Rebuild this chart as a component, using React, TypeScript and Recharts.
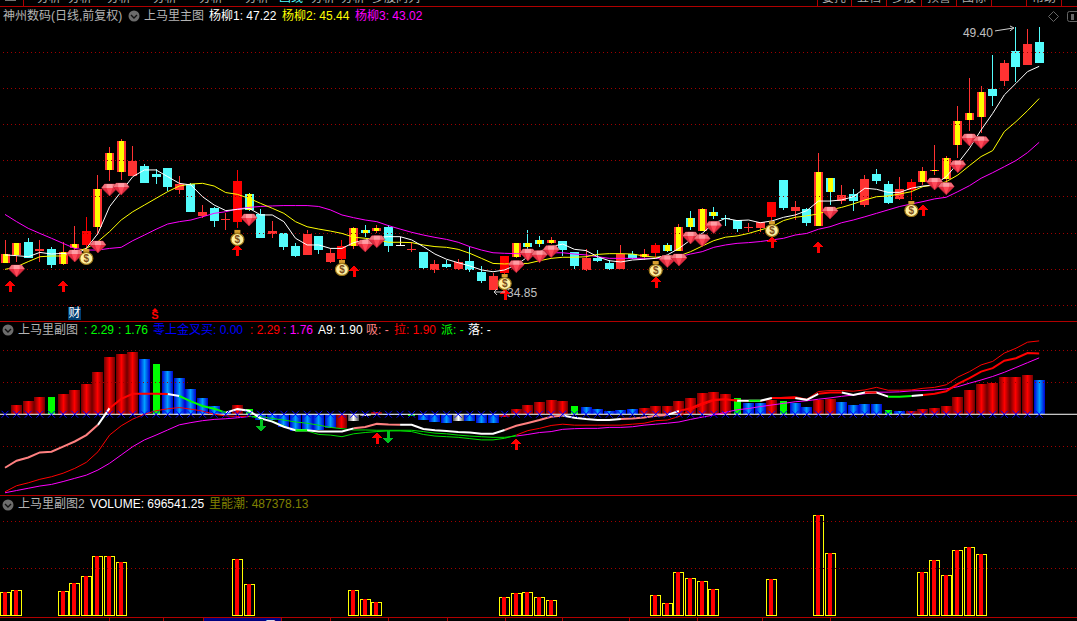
import React from 'react';
import { ComposedChart, Bar, Line, XAxis, YAxis, ReferenceLine } from 'recharts';

const candleKinds = [
  'y','y','c','r','c','y','y','R','y','y','y','r','c','c','c','r','c','r','c','r','R','q','c','r','c','c','r','c','r','R',
  'y','q','y','c','w','r','c','r','c','r','c','c','r','R','y','q','q','y','c','c','r','c','c','r','c','y','R','q','y','q',
  'y','q','c','c','r','r','R','c','r','c','y','q','r','c','r','c','c','r','R','y','y','y','y','y','y','c','r','c','r','c',
];
const opens = [
  36.33,36.79,37.50,37.01,37.12,36.27,37.19,37.34,38.35,41.47,41.36,41.18,41.71,41.29,41.60,40.40,40.69,38.95,39.39,38.72,
  38.63,40.16,39.07,37.95,38.00,37.28,36.79,37.84,36.40,36.56,37.28,38.17,38.13,38.35,37.32,37.08,36.95,35.96,36.29,36.01,
  36.45,35.84,34.85,35.77,36.67,37.45,37.62,37.45,37.56,36.95,35.96,36.62,36.34,36.01,36.84,36.67,36.90,37.34,37.01,38.83,
  38.11,39.16,38.83,38.72,38.26,38.28,38.90,40.94,39.22,39.33,38.39,41.05,39.77,40.16,39.55,41.27,40.71,39.88,40.38,40.83,
  41.43,40.99,42.87,44.25,44.42,45.97,46.41,48.07,47.30,48.57,
];
const closes = [
  36.84,37.45,36.64,37.12,36.25,36.93,37.38,38.11,40.44,42.43,43.09,41.99,40.77,41.12,40.57,40.71,39.17,39.17,38.69,38.80,
  40.88,39.28,37.75,38.11,37.23,36.73,37.95,37.06,36.89,37.28,38.28,38.02,38.30,37.30,37.36,37.12,36.07,36.29,36.12,36.40,
  35.96,35.35,35.62,36.73,37.45,37.23,37.39,37.62,37.06,36.18,36.62,36.45,36.01,36.84,36.62,36.84,37.34,37.01,38.33,38.33,
  39.33,38.94,38.78,38.22,38.31,38.59,39.72,39.39,39.44,38.55,41.38,40.27,40.11,39.77,40.99,40.88,39.66,40.44,40.83,41.43,
  41.49,42.15,44.20,44.64,45.80,45.58,47.41,47.19,48.46,47.41,
];
const highs = [
  37.62,37.45,37.71,37.62,37.21,37.49,38.39,38.87,41.21,42.78,43.19,42.82,41.80,41.53,41.60,41.16,40.75,39.55,39.42,39.09,
  41.49,40.24,39.31,38.67,38.00,37.47,38.17,37.84,37.15,37.62,38.35,38.44,38.44,38.44,37.76,37.52,36.95,36.51,36.51,36.55,
  37.23,36.18,35.77,36.73,37.45,38.17,37.84,37.76,37.56,36.95,37.12,37.06,36.51,37.34,37.01,37.12,37.45,37.45,38.50,39.22,
  39.39,39.44,38.98,38.72,38.54,38.59,39.72,40.94,39.77,39.39,42.43,41.05,40.66,40.44,41.21,41.54,40.88,41.10,40.99,41.65,
  42.87,42.26,45.03,46.58,46.13,47.85,47.57,49.40,49.29,49.40,
];
const lows = [
  36.33,36.42,36.64,36.42,36.03,36.23,36.97,37.06,37.89,40.90,40.94,41.18,40.73,40.71,40.35,40.16,39.17,38.82,38.30,38.17,
  38.26,39.24,37.75,37.75,37.06,36.69,36.79,36.84,36.33,36.33,37.12,37.78,38.02,36.95,37.25,36.95,36.03,35.81,36.05,35.92,
  35.86,35.26,34.85,35.50,36.62,37.06,37.21,37.39,36.73,36.01,35.92,36.40,35.96,36.01,36.56,36.51,36.69,36.95,37.01,38.19,
  38.11,38.78,38.39,38.06,38.06,38.06,38.63,39.28,38.72,38.39,38.39,39.55,39.61,39.22,39.44,40.71,39.61,39.83,39.83,40.66,
  41.21,40.66,42.15,43.65,43.52,45.03,46.13,46.36,47.30,47.41,
];
const yangliu1 = [
  36.79,36.75,36.69,36.93,36.84,36.88,36.79,37.15,37.98,39.46,40.29,41.12,41.49,41.49,41.12,40.75,40.66,40.01,39.55,39.24,
  39.31,39.37,39.00,39.00,38.63,37.71,37.34,37.34,37.15,37.15,37.47,37.62,37.76,37.80,37.80,37.62,37.25,36.84,36.55,36.36,
  36.18,35.96,35.86,35.96,36.23,36.69,36.97,37.25,37.39,37.10,37.03,36.69,36.47,36.40,36.51,36.55,36.60,36.79,37.15,37.62,
  37.98,38.54,38.81,38.69,38.72,38.57,38.67,38.87,39.00,39.24,39.77,39.77,39.83,40.01,40.48,40.42,40.25,40.25,40.48,40.60,
  40.66,41.12,41.86,42.69,43.70,44.62,45.64,46.28,46.93,47.22,
];
const yangliu2 = [
  35.99,36.14,36.42,36.69,36.73,36.73,36.97,37.15,37.53,38.08,38.72,39.18,39.55,39.92,40.29,40.60,40.71,40.75,40.60,40.24,
  40.14,39.92,39.64,39.37,39.09,38.63,38.35,38.22,38.11,37.98,37.77,37.71,37.62,37.49,37.49,37.47,37.34,37.25,37.21,37.10,
  36.88,36.60,36.32,36.29,36.32,36.32,36.47,36.60,36.66,36.66,36.69,36.82,36.86,36.86,36.84,36.73,36.66,36.73,36.73,36.97,
  37.28,37.58,37.77,37.84,37.98,38.17,38.35,38.69,38.87,38.95,39.06,39.28,39.42,39.61,39.83,40.01,40.05,40.16,40.29,40.57,
  40.66,40.84,41.21,41.73,42.23,42.56,43.61,44.16,44.77,45.44,
];
const yangliu3 = [
  39.03,38.63,38.26,37.98,37.71,37.43,37.15,37.06,37.06,37.15,37.21,37.58,37.89,38.21,38.50,38.63,38.72,38.90,39.09,39.18,
  39.33,39.42,39.47,39.50,39.52,39.52,39.52,39.47,39.28,39.00,38.85,38.72,38.63,38.41,38.22,38.04,37.89,37.76,37.65,37.49,
  37.25,37.06,36.91,36.88,36.86,36.84,36.88,36.91,36.91,36.84,36.79,36.69,36.60,36.60,36.60,36.60,36.60,36.62,36.69,36.84,
  36.97,37.21,37.34,37.43,37.47,37.53,37.62,37.71,37.89,37.98,38.21,38.35,38.57,38.72,38.90,39.09,39.28,39.47,39.61,39.74,
  39.89,39.98,40.29,40.62,41.03,41.34,41.67,42.01,42.45,43.02,
];
const priceGrid = [48, 46, 44, 42, 40, 38, 36, 34];

// [day index, price] for the picture marks on the main pane
const gemMarks = [
  [1,35.90],[6,36.73],[8,37.23],[9,40.38],[10,40.43],[21,38.72],[31,37.29],[32,37.52],[44,36.14],[45,36.79],[46,36.69],[47,36.97],
  [57,36.42],[58,36.51],[59,37.73],[60,37.58],[61,38.30],[71,39.11],[80,40.71],[81,40.45],[82,41.67],[83,43.15],[84,43.00],
];
const bagMarks = [[7,36.68],[20,37.73],[29,36.07],[43,35.29],[56,36.01],[66,38.22],[78,39.33]];
const upMarks = [[0,35.40],[5,35.40],[20,37.39],[30,36.23],[43,34.96],[56,35.64],[66,37.83],[70,37.56],[79,39.61]];
const peakMark = [[87,49.40]];
const troughMark = [[42,34.85]];

const histKinds = [
  'r','r','r','r','g','r','r','r','r','r','r','r','b','g','b','b','b','b','b','b','r','g','b','b','b','b','b','b','b','r',
  'w','w','r','b','b','g','b','b','b','w','b','b','b','r','r','r','r','r','r','g','b','b','b','b','b','r','r','r','r','r',
  'r','r','r','g','b','b','r','g','b','b','r','r','b','b','b','b','g','b','r','r','r','r','r','r','r','r','r','r','r','b',
];
const histValues = [
  0,0.29,0.42,0.54,0.54,0.64,0.76,0.95,1.32,1.79,1.89,1.93,1.73,1.57,1.35,1.14,0.79,0.51,0.26,0.07,
  0.29,0.17,-0.18,-0.18,-0.41,-0.54,-0.54,-0.49,-0.44,-0.44,-0.21,-0.07,0.07,-0.02,-0.02,-0.05,-0.18,-0.24,-0.28,-0.21,
  -0.21,-0.28,-0.28,-0.08,0.17,0.29,0.39,0.45,0.42,0.26,0.23,0.17,0.10,0.14,0.17,0.20,0.26,0.26,0.42,0.51,
  0.67,0.70,0.64,0.51,0.35,0.35,0.45,0.42,0.35,0.23,0.45,0.48,0.39,0.29,0.32,0.32,0.14,0.10,0.10,0.17,
  0.20,0.26,0.54,0.76,0.95,0.98,1.17,1.17,1.23,1.07,
];
const thickValues = [
  -1.67,-1.45,-1.35,-1.19,-1.17,-1.01,-0.85,-0.65,-0.33,0.19,0.48,0.64,0.64,0.64,0.63,0.57,0.40,0.26,0.17,0.05,
  0.16,0.11,-0.13,-0.23,-0.39,-0.50,-0.50,-0.54,-0.54,-0.54,-0.44,-0.40,-0.30,-0.32,-0.33,-0.33,-0.46,-0.50,-0.52,-0.55,
  -0.57,-0.61,-0.61,-0.49,-0.36,-0.27,-0.18,-0.08,-0.04,-0.11,-0.15,-0.18,-0.18,-0.15,-0.13,-0.10,-0.05,-0.02,0.10,0.19,
  0.34,0.45,0.47,0.42,0.42,0.42,0.51,0.51,0.51,0.45,0.64,0.68,0.68,0.60,0.68,0.68,0.55,0.55,0.57,0.60,
  0.64,0.72,0.95,1.13,1.33,1.44,1.67,1.75,1.91,1.90,
];
// colour of the stretch leaving each day: S salmon, W white, R red, G green
const thickStretches =
  'SSSSSSSS' + 'W' + 'RRRRR' + 'W' + 'GGGG' + 'WWWWWW' + 'G' + 'WWWW' + 'SSSS' + 'WWWWWWWWW' + 'SSSSS' + 'WWWWW' + 'SSSS' + 'W' +
  'RRRRR' + 'W' + 'G' + 'W' + 'RR' + 'WW' + 'RR' + 'WW' + 'R' + 'W' + 'GG' + 'W' + 'RRRRRRRRRR';
const fastValues = [
  -2.42,-2.23,-2.14,-2.03,-1.95,-1.84,-1.69,-1.50,-1.17,-0.65,-0.36,-0.15,0,0.11,0.17,0.21,0.16,0.10,0,-0.05,
  -0.07,-0.06,-0.13,-0.21,-0.36,-0.52,-0.52,-0.63,-0.65,-0.70,-0.61,-0.57,-0.54,-0.52,-0.52,-0.54,-0.63,-0.68,-0.70,-0.72,
  -0.76,-0.80,-0.80,-0.75,-0.65,-0.51,-0.44,-0.35,-0.31,-0.34,-0.34,-0.34,-0.34,-0.34,-0.31,-0.28,-0.20,-0.18,-0.07,0.14,
  0.29,0.42,0.47,0.45,0.40,0.40,0.50,0.53,0.55,0.47,0.71,0.74,0.74,0.72,0.76,0.84,0.75,0.75,0.76,0.81,
  0.84,0.92,1.16,1.33,1.54,1.65,1.91,2.06,2.25,2.29,
];
const slowValues = [
  -2.45,-2.38,-2.31,-2.24,-2.19,-2.10,-2.00,-1.90,-1.74,-1.53,-1.27,-1.01,-0.80,-0.65,-0.49,-0.33,-0.26,-0.20,-0.16,-0.14,
  -0.11,-0.07,-0.07,-0.13,-0.18,-0.24,-0.28,-0.34,-0.41,-0.45,-0.49,-0.49,-0.50,-0.50,-0.50,-0.50,-0.54,-0.59,-0.61,-0.65,
  -0.68,-0.70,-0.72,-0.72,-0.68,-0.63,-0.57,-0.54,-0.47,-0.45,-0.44,-0.44,-0.41,-0.41,-0.39,-0.34,-0.31,-0.28,-0.24,-0.16,
  -0.09,-0.02,0.06,0.14,0.18,0.24,0.29,0.34,0.39,0.42,0.47,0.51,0.56,0.60,0.64,0.69,0.69,0.70,0.73,0.74,
  0.76,0.79,0.86,0.97,1.07,1.18,1.31,1.46,1.61,1.76,
];
const greenStretchStart = 21;
const greenStretchEnd = 44;
const indicatorGrid = [2, 1, -1];
const redUpMarks = [[32,-0.54],[44,-0.74]];
const greenDownMarks = [[22,-0.54],[33,-0.93]];

const volumeMarks = [
  [0,237000],[1,257000],[5,247000],[6,327000],[7,397000],[8,597000],[9,597000],[10,537000],[20,567000],[21,317000],[30,257000],
  [31,167000],[32,137000],[43,187000],[44,227000],[45,237000],[46,187000],[47,157000],[56,207000],[57,127000],[58,437000],
  [59,377000],[60,347000],[61,267000],[66,367000],[70,1007000],[71,627000],[79,437000],[80,557000],[81,407000],[82,657000],
  [83,687000],[84,617000],
];
const volumeGrid = [477000, 947000];

// 90 trading days plus 3 empty slots on the right edge
const days = Array.from({ length: 93 }, (_, i) => `d${i}`);

const pick = (marks: number[][], i: number) => {
  const m = marks.find((p) => p[0] === i);
  return m ? m[1] : null;
};
const stretch = (values: number[], i: number, on: (k: number) => boolean) => {
  if (i >= values.length) return null;
  return on(i) || (i > 0 && on(i - 1)) ? values[i] : null;
};
const isGreenStretch = (k: number) => k >= greenStretchStart && k < greenStretchEnd;

const rows = days.map((day, i) => ({
  day,
  range: i < highs.length ? [lows[i], highs[i]] : null,
  open: opens[i],
  close: closes[i],
  high: highs[i],
  low: lows[i],
  kind: candleKinds[i],
  yl1: yangliu1[i] ?? null,
  yl2: yangliu2[i] ?? null,
  yl3: yangliu3[i] ?? null,
  gem: pick(gemMarks, i),
  bag: pick(bagMarks, i),
  up: pick(upMarks, i),
  peak: pick(peakMark, i),
  trough: pick(troughMark, i),
  hist: histValues[i] ?? null,
  histKind: histKinds[i],
  cross: i < histValues.length ? 0 : null,
  thickS: stretch(thickValues, i, (k) => thickStretches[k] === 'S'),
  thickW: stretch(thickValues, i, (k) => thickStretches[k] === 'W'),
  thickR: stretch(thickValues, i, (k) => thickStretches[k] === 'R'),
  thickG: stretch(thickValues, i, (k) => thickStretches[k] === 'G'),
  fastRed: stretch(fastValues, i, (k) => !isGreenStretch(k)),
  fastGreen: stretch(fastValues, i, isGreenStretch),
  slowPink: stretch(slowValues, i, (k) => !isGreenStretch(k)),
  slowGreen: stretch(slowValues, i, isGreenStretch),
  redUp: pick(redUpMarks, i),
  greenDown: pick(greenDownMarks, i),
  volume: pick(volumeMarks, i),
}));

const CandleShape = (props: any) => {
  const { x, y, width, height, payload } = props;
  if (!payload.range || !height) return <g />;
  const top = Math.min(y, y + height);
  const perUnit = Math.abs(height) / (payload.high - payload.low);
  const bodyTop = Math.round(top + (payload.high - Math.max(payload.open, payload.close)) * perUnit);
  const bodyBottom = Math.round(top + (payload.high - Math.min(payload.open, payload.close)) * perUnit);
  // recharts floors the bar offset inside the band, put that fraction back
  const left = Math.round(x + 0.31);
  const w = Math.round(width);
  const mid = left + Math.floor(w / 2);
  const k = payload.kind;
  const color = k === 'c' || k === 'q' ? '#54fcfc' : k === 'R' ? '#ff0000' : k === 'w' ? '#ffffff' : '#ff3232';
  return (
    <g shapeRendering="crispEdges">
      <rect x={mid} y={Math.round(top)} width={1} height={Math.max(1, Math.round(Math.abs(height)))} fill={color} />
      <rect x={left} y={bodyTop} width={w} height={Math.max(1, bodyBottom - bodyTop)} fill={color} />
      {(k === 'y' || k === 'q') && (
        <rect x={left + 2} y={bodyTop} width={w - 4} height={Math.max(1, bodyBottom - bodyTop)} fill="#ffff00" />
      )}
    </g>
  );
};

const HistShape = (props: any) => {
  const { x, y, width, height, payload } = props;
  if (payload.hist == null || !height) return <g />;
  const top = Math.round(Math.min(y, y + height));
  const h = Math.max(1, Math.round(Math.abs(height)));
  const k = payload.histKind;
  const left = Math.round(x + 0.31);
  if (k === 'g') return <rect x={left + 2} y={top} width={7} height={h} fill="#00ff00" shapeRendering="crispEdges" />;
  const fill = k === 'r' ? 'url(#histRed)' : k === 'b' ? 'url(#histBlue)' : 'url(#histGray)';
  return <rect x={left} y={top} width={Math.round(width)} height={h} fill={fill} shapeRendering="crispEdges" />;
};

const VolumeShape = (props: any) => {
  const { x, y, width, height, payload } = props;
  if (payload.volume == null || !height) return <g />;
  const left = Math.round(x + 0.31);
  const top = Math.round(y);
  const h = Math.round(height);
  const w = Math.round(width);
  return (
    <g shapeRendering="crispEdges">
      <rect x={left} y={top} width={w} height={h} fill="#ffff00" />
      <rect x={left + 1} y={top + 1} width={w - 2} height={h - 2} fill="#000" />
      <rect x={left + 3} y={top} width={w - 7} height={h - 1} fill="#ff0000" />
    </g>
  );
};

const Gem = ({ cx, cy }: any) => (
  <g transform={`translate(${cx},${cy})`}>
    <polygon points="-8,-2 -5,-6 5,-6 8,-2 0,6" fill="#e02c40" stroke="#a02030" strokeWidth={0.6} />
    <polygon points="-8,-2 -5,-6 5,-6 8,-2" fill="#f0727c" />
    <polygon points="-3,-2 3,-2 0,6" fill="#ff4858" />
    <polygon points="-3,-6 3,-6 3,-2 -3,-2" fill="#ff9ca4" />
  </g>
);

const MoneyBag = ({ cx, cy }: any) => (
  <g transform={`translate(${cx},${cy})`}>
    <rect x={-3} y={-8} width={6} height={3} fill="#d8a030" />
    <ellipse cx={0} cy={1.5} rx={6.5} ry={6} fill="#fff0a0" stroke="#a07818" strokeWidth={1.2} />
    <text x={0} y={5} textAnchor="middle" fontSize={10} fontWeight="bold" fontFamily="Liberation Sans" fill="#7a4a18">$</text>
  </g>
);

const UpArrow = ({ cx, cy, color = '#ff0000', dx = 0 }: any) => (
  <g transform={`translate(${Math.round(cx + dx)},${Math.round(cy)})`} shapeRendering="crispEdges">
    <polygon points="0,0 5,6 1.5,6 1.5,12 -1.5,12 -1.5,6 -5,6" fill={color} />
  </g>
);

const DownArrow = ({ cx, cy, color = '#00c020' }: any) => (
  <g transform={`translate(${Math.round(cx)},${Math.round(cy)})`} shapeRendering="crispEdges">
    <polygon points="0,0 5,-6 1.5,-6 1.5,-13 -1.5,-13 -1.5,-6 -5,-6" fill={color} />
  </g>
);

const CrossMark = ({ cx, cy }: any) => (
  <g stroke="#0000ff" strokeWidth={1}>
    <line x1={cx - 3.5} y1={cy - 3.5} x2={cx + 3.5} y2={cy + 3.5} />
    <line x1={cx - 3.5} y1={cy + 3.5} x2={cx + 3.5} y2={cy - 3.5} />
  </g>
);

const priceFont = { fontFamily: '"Liberation Sans", sans-serif', fontSize: 12, fill: '#c0c0c0' };

const PeakNote = ({ cx, cy, value }: any) => (
  <g>
    <text x={cx - 53} y={cy + 10} {...priceFont}>{value.toFixed(2)}</text>
    <path d={`M${cx - 21} ${cy + 4} L${cx - 2} ${cy + 1} M${cx - 6} ${cy - 1} L${cx - 2} ${cy + 1} L${cx - 6} ${cy + 4}`} stroke="#d0d0d0" fill="none" />
  </g>
);

const TroughNote = ({ cx, cy, value }: any) => (
  <g>
    <path d={`M${cx + 12} ${cy + 2} L${cx + 1} ${cy + 2} M${cx + 4} ${cy - 1} L${cx + 1} ${cy + 2} L${cx + 4} ${cy + 5}`} stroke="#d0d0d0" fill="none" />
    <text x={cx + 14} y={cy + 7} {...priceFont}>{value.toFixed(2)}</text>
  </g>
);

const marks = (Comp: any, extra?: (i: number) => any) => (props: any) => {
  const { cx, cy, index, value } = props;
  if (cy == null || cx == null || value == null) return <g key={index} />;
  return <Comp key={index} cx={cx} cy={cy} value={Array.isArray(value) ? value[1] : value} {...(extra ? extra(index) : {})} />;
};

const seriesLine = (key: string, color: string, width = 1) => (
  <Line
    dataKey={key}
    type="linear"
    stroke={color}
    strokeWidth={width}
    dot={false}
    activeDot={false}
    legendType="none"
    isAnimationActive={false}
  />
);

const markLine = (key: string, dot: any) => (
  <Line dataKey={key} stroke="none" strokeWidth={0} dot={dot} activeDot={false} legendType="none" isAnimationActive={false} />
);

const gridLine = (v: number) => (
  <ReferenceLine key={v} y={v} stroke="#a00000" strokeDasharray="1 3" shapeRendering="crispEdges" />
);

const chartWidth = 1082;
const chartMargin = { top: 0, right: 1.15, bottom: 0, left: 0.19 };

const Pane = ({ top, height, domain, children }: any) => (
  <div style={{ position: 'absolute', left: -1, top }}>
    <ComposedChart width={chartWidth} height={height} data={rows} margin={chartMargin} barGap={0}>
      <defs>
        <linearGradient id="histRed" x1="0" y1="0" x2="1" y2="0">
          <stop offset="0%" stopColor="#700000" />
          <stop offset="50%" stopColor="#ff0000" />
          <stop offset="100%" stopColor="#700000" />
        </linearGradient>
        <linearGradient id="histBlue" x1="0" y1="0" x2="1" y2="0">
          <stop offset="0%" stopColor="#0000d0" />
          <stop offset="50%" stopColor="#00a0ff" />
          <stop offset="100%" stopColor="#0000d0" />
        </linearGradient>
        <linearGradient id="histGray" x1="0" y1="0" x2="1" y2="0">
          <stop offset="0%" stopColor="#505050" />
          <stop offset="50%" stopColor="#ffffff" />
          <stop offset="100%" stopColor="#505050" />
        </linearGradient>
      </defs>
      <XAxis dataKey="day" hide />
      <YAxis type="number" hide domain={domain} />
      {children}
    </ComposedChart>
  </div>
);

const textBase: React.CSSProperties = {
  position: 'absolute',
  whiteSpace: 'nowrap',
  fontFamily: '"Liberation Sans", "Noto Sans CJK SC", sans-serif',
  fontSize: 12,
  lineHeight: '14px',
};

const T = ({ x, y, color, children }: any) => (
  <div style={{ ...textBase, left: x, top: y - 7, color }}>{children}</div>
);

const Chevron = ({ x, y }: any) => (
  <svg style={{ position: 'absolute', left: x - 6, top: y - 6 }} width={12} height={12}>
    <circle cx={6} cy={6} r={5.5} fill="#6c6c6c" />
    <path d="M3 5 L6 8 L9 5" stroke="#111" strokeWidth={1.4} fill="none" />
  </svg>
);

const Rule = ({ y, x = 0, w = 1077, h = 1 }: any) => (
  <div style={{ position: 'absolute', left: x, top: y, width: w, height: h, background: '#b00000' }} />
);

const topTabsLeft = [
  ['分析', 37], ['分析', 68], ['分析', 107], ['分析', 153], ['分析', 199], ['分析', 245], ['画线', 279, '#54fcfc'], ['分析', 311], ['分析', 341], ['多股同列', 372],
];
const topTabsRight = [['委托', 822], ['五档', 857], ['多股', 892], ['预警', 927], ['图标', 962], ['帮助', 1032]];
const topSeparators = [23, 817, 851, 886, 921, 956, 991, 1026, 1061];
const bottomTicks = [109, 163, 330, 388, 447, 505, 562, 629, 697, 762, 830];

export default function App() {
  return (
    <div style={{ position: 'relative', width: 1077, height: 621, overflow: 'hidden', background: '#000' }}>
      <style>{'body{margin:0;background:#000}'}</style>

      <Pane top={0} height={322} domain={[33.08, 50.89]}>
        {priceGrid.map(gridLine)}
        {seriesLine('yl3', '#ff00ff')}
        {seriesLine('yl2', '#ffff00')}
        {seriesLine('yl1', '#ffffff')}
        <Bar dataKey="range" barSize={9} shape={CandleShape} activeBar={false} isAnimationActive={false} />
        {markLine('up', marks(UpArrow, (i) => (i === 0 ? { dx: 5 } : {})))}
        {markLine('gem', marks(Gem))}
        {markLine('bag', marks(MoneyBag))}
        {markLine('peak', marks(PeakNote))}
        {markLine('trough', marks(TroughNote))}
      </Pane>

      <Pane top={322} height={173} domain={[-2.52, 2.88]}>
        {indicatorGrid.map(gridLine)}
        <Bar dataKey="hist" barSize={11} shape={HistShape} activeBar={false} isAnimationActive={false} />
        <ReferenceLine y={0} stroke="#ffffff" strokeWidth={1} />
        {markLine('cross', marks(CrossMark))}
        {seriesLine('slowPink', '#ff00ff')}
        {seriesLine('slowGreen', '#00e000')}
        {seriesLine('fastRed', '#ff0000')}
        {seriesLine('fastGreen', '#00e000')}
        {seriesLine('thickS', '#ff8080', 2)}
        {seriesLine('thickW', '#ffffff', 2)}
        {seriesLine('thickR', '#ff0000', 2)}
        {seriesLine('thickG', '#00ff00', 2)}
        {markLine('redUp', marks(UpArrow))}
        {markLine('greenDown', marks(DownArrow))}
      </Pane>

      <Pane top={496} height={120} domain={[0, 1200000]}>
        {volumeGrid.map(gridLine)}
        <Bar dataKey="volume" barSize={11} shape={VolumeShape} activeBar={false} isAnimationActive={false} />
      </Pane>

      {/* clipped toolbar along the top edge */}
      <div style={{ position: 'absolute', left: 0, top: 0, width: 1077, height: 6, overflow: 'hidden' }}>
        {[...topTabsLeft, ...topTabsRight].map((t: any, i) => (
          <div key={i} style={{ ...textBase, left: t[1], top: -9, color: t[2] || '#b0b0b0' }}>{t[0]}</div>
        ))}
        <div style={{ position: 'absolute', left: 5, top: 0, width: 11, height: 1, background: '#777' }} />
        {topSeparators.map((x) => (
          <div key={x} style={{ position: 'absolute', left: x, top: 0, width: 1, height: 6, background: '#b00000' }} />
        ))}
      </div>
      <Rule y={6} />
      <Rule y={321} />
      <Rule y={495} />
      <Rule y={617} />

      <T x={3} y={16} color="#b4b4b4">神州数码(日线,前复权)</T>
      <Chevron x={134} y={16} />
      <T x={144} y={16} color="#b4b4b4">上马里主图</T>
      <T x={209} y={16} color="#ffffff">杨柳1: 47.22</T>
      <T x={282} y={16} color="#ffff00">杨柳2: 45.44</T>
      <T x={355} y={16} color="#ff00ff">杨柳3: 43.02</T>
      <svg style={{ position: 'absolute', left: 1047, top: 10 }} width={30} height={14}>
        <path d="M6.5 1.5 L11.5 6.5 L6.5 11.5 L1.5 6.5 Z" stroke="#666" fill="none" />
        <rect x={20.5} y={1.5} width={12} height={10} rx={2} stroke="#666" fill="none" />
        <rect x={24} y={4} width={3} height={6} fill="#666" />
      </svg>

      <div style={{ ...textBase, left: 68, top: 307, width: 13, height: 13, background: '#003d70', color: '#fff', textAlign: 'center', lineHeight: '13px' }}>财</div>
      <div style={{ ...textBase, left: 150, top: 310, width: 10, color: '#ff0000', textAlign: 'center', fontWeight: 'bold', fontSize: 11, lineHeight: '11px' }}>S</div>
      <svg style={{ position: 'absolute', left: 152, top: 308 }} width={6} height={3}>
        <polygon points="3,0 6,3 0,3" fill="#ff0000" />
      </svg>

      <Chevron x={8} y={330} />
      <T x={18} y={330} color="#b4b4b4">上马里副图</T>
      <T x={84} y={330} color="#00ff00">: 2.29</T>
      <T x={118} y={330} color="#00ff00">: 1.76</T>
      <T x={153} y={330} color="#0000ff">零上金叉买: 0.00</T>
      <T x={250} y={330} color="#ff0000">: 2.29</T>
      <T x={283} y={330} color="#ff00ff">: 1.76</T>
      <T x={318} y={330} color="#ffffff">A9: 1.90</T>
      <T x={366} y={330} color="#ff8080">吸: -</T>
      <T x={394} y={330} color="#ff0000">拉: 1.90</T>
      <T x={441} y={330} color="#00ff00">派: -</T>
      <T x={468} y={330} color="#ffffff">落: -</T>

      <Chevron x={8} y={505} />
      <T x={18} y={504} color="#b4b4b4">上马里副图2</T>
      <T x={90} y={504} color="#ffffff">VOLUME: 696541.25</T>
      <T x={209} y={504} color="#808000">里能潮: 487378.13</T>

      {bottomTicks.map((x) => (
        <div key={x} style={{ position: 'absolute', left: x, top: 618, width: 1, height: 3, background: '#b00000' }} />
      ))}
      <div style={{ position: 'absolute', left: 203, top: 618, width: 79, height: 3, overflow: 'hidden', background: '#000080', borderLeft: '1px solid #b00000', borderRight: '1px solid #b00000', boxSizing: 'border-box' }}>
        <div style={{ ...textBase, left: 3, top: 0, color: '#fff', fontSize: 11 }}>2022/08/10/三</div>
      </div>
    </div>
  );
}
